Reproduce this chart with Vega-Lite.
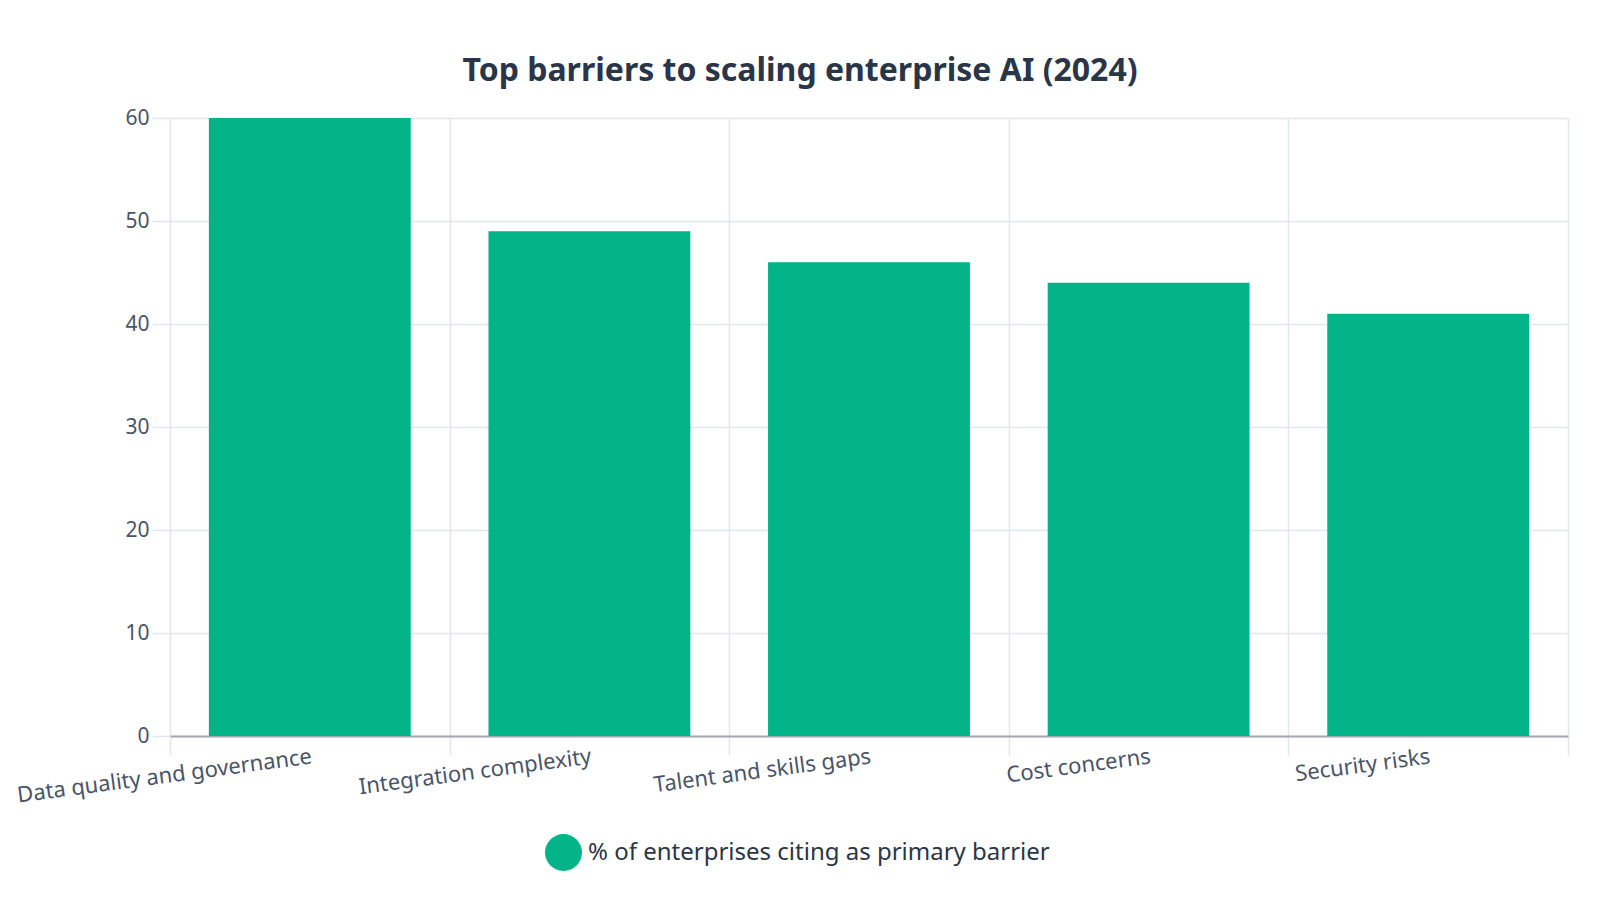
{
  "$schema": "https://vega.github.io/schema/vega-lite/v6.json",
  "width": 1398,
  "height": 618,
  "autosize": {"type": "none"},
  "padding": {"left": 170, "top": 118, "right": 32, "bottom": 146},
  "background": "white",
  "title": {
    "text": "Top barriers to scaling enterprise AI (2024)",
    "font": "Noto Sans",
    "fontSize": 32,
    "fontWeight": "bold",
    "color": "#2a3547",
    "anchor": "middle",
    "dx": -69,
    "offset": 19
  },
  "data": {
    "values": [
      {"barrier": "Data quality and governance", "pct": 60},
      {"barrier": "Integration complexity", "pct": 49},
      {"barrier": "Talent and skills gaps", "pct": 46},
      {"barrier": "Cost concerns", "pct": 44},
      {"barrier": "Security risks", "pct": 41}
    ]
  },
  "mark": {"type": "bar", "width": {"band": 0.722}},
  "encoding": {
    "x": {
      "field": "barrier",
      "type": "nominal",
      "sort": null,
      "scale": {"paddingInner": 0, "paddingOuter": 0},
      "axis": {
        "title": null,
        "labelAngle": -7.6,
        "labelFont": "Noto Sans",
        "labelFontSize": 22,
        "labelColor": "#4a5468",
        "labelPadding": -9,
        "labelLimit": 0,
        "tickBand": "extent",
        "tickSize": 19,
        "tickColor": "#e2e6ee",
        "tickWidth": 1.5,
        "grid": true,
        "gridColor": "#e2e6ee",
        "gridWidth": 1.5,
        "domainColor": "#a3a7ae",
        "domainWidth": 2
      }
    },
    "y": {
      "field": "pct",
      "type": "quantitative",
      "scale": {"domain": [0, 60], "nice": false},
      "axis": {
        "title": null,
        "values": [0, 10, 20, 30, 40, 50, 60],
        "labelFont": "Noto Sans",
        "labelFontSize": 21,
        "labelColor": "#4a5468",
        "labelPadding": 3,
        "tickSize": 18,
        "tickColor": "#e2e6ee",
        "tickWidth": 1.5,
        "gridColor": "#e2e6ee",
        "gridWidth": 1.5,
        "domain": false
      }
    },
    "color": {
      "datum": "% of enterprises citing as primary barrier",
      "type": "nominal",
      "scale": {"range": ["#02b488"]},
      "legend": {
        "title": null,
        "orient": "none",
        "legendX": 375,
        "legendY": 716,
        "symbolType": "circle",
        "symbolSize": 1369,
        "symbolStrokeWidth": 0,
        "labelFont": "Noto Sans",
        "labelFontSize": 24,
        "labelColor": "#2a3547",
        "labelLimit": 0,
        "labelOffset": 6
      }
    }
  },
  "config": {
    "view": {"stroke": null}
  }
}
